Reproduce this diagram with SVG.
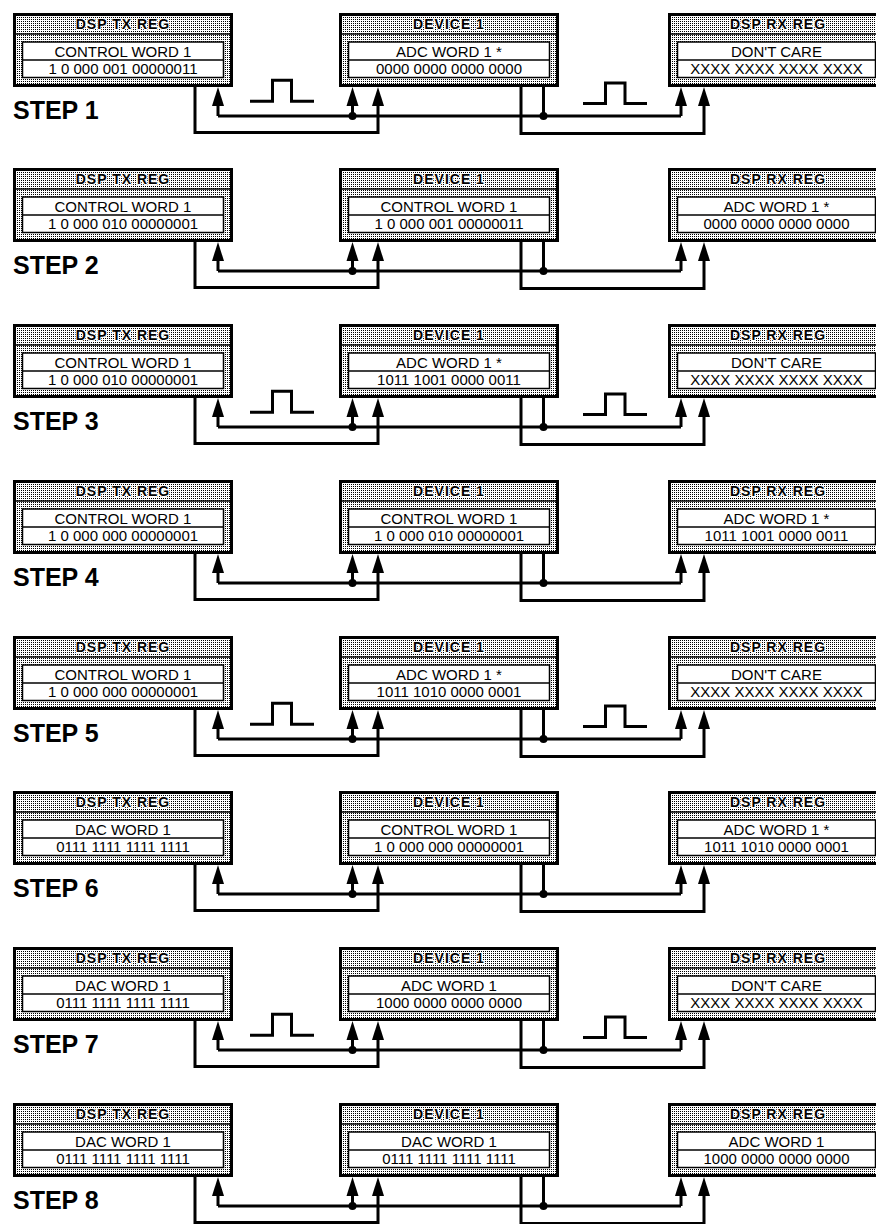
<svg xmlns="http://www.w3.org/2000/svg" width="876" height="1224" viewBox="0 0 876 1224">
<style>
.box{fill:url(#stip);stroke:#000;stroke-width:3}
.hl{stroke:#000;stroke-width:1.5}
.inner{fill:#fff;stroke:#000;stroke-width:1.5}
.hdr{font-family:"Liberation Sans",Arial,sans-serif;font-weight:bold;font-size:14px;letter-spacing:1px;text-anchor:middle;fill:#000;stroke:#fff;stroke-width:2px;paint-order:stroke;stroke-linejoin:round}
.txt{font-family:"Liberation Sans",Arial,sans-serif;font-size:15px;text-anchor:middle;fill:#000}
.step{font-family:"Liberation Sans",Arial,sans-serif;font-weight:bold;font-size:25px;fill:#000}
.w{fill:none;stroke:#000;stroke-width:3;stroke-linejoin:miter}
.arr{marker-end:url(#ah)}
.dot{fill:#000}
</style>
<defs>
<pattern id="stip" width="2" height="2" patternUnits="userSpaceOnUse"><rect width="2" height="2" fill="#fff"/><rect width="1" height="1" fill="#000"/></pattern>
<marker id="ah" markerUnits="userSpaceOnUse" viewBox="-9 -7 21 14" refX="0" refY="0" markerWidth="21" markerHeight="14" orient="auto" overflow="visible"><path d="M11,0 L-8,-6 L-8,6 Z" fill="#000"/></marker>
<g id="frameA"><rect class="box" x="1.5" y="1.5" width="217" height="71"/><line class="hl" x1="1.5" y1="21" x2="218.5" y2="21"/><rect class="inner" x="9.5" y="29" width="201" height="35.5"/><line class="hl" x1="9.5" y1="47" x2="210.5" y2="47"/></g>
<g id="frameR"><rect class="box" x="1.5" y="1.5" width="217" height="71"/><line class="hl" x1="1.5" y1="21" x2="218.5" y2="21"/><rect class="inner" x="9.5" y="29" width="198" height="35.5"/><line class="hl" x1="9.5" y1="47" x2="207.5" y2="47"/></g>
</defs>
<rect width="876" height="1224" fill="#fff"/>

<!-- STEP 1 -->
<g id="s1-tx" transform="translate(13,13)"><use href="#frameA"/><text class="hdr" x="110" y="16">DSP TX REG</text><text class="txt" x="110" y="43.6">CONTROL WORD 1</text><text class="txt" x="110" y="61.3">1 0 000 001 00000011</text></g>
<g id="s1-dev" transform="translate(339,13)"><use href="#frameA"/><text class="hdr" x="110" y="16">DEVICE 1</text><text class="txt" x="110" y="43.6">ADC WORD 1 *</text><text class="txt" x="110" y="61.3">0000 0000 0000 0000</text></g>
<g id="s1-rx" transform="translate(668,13)"><use href="#frameR"/><text class="hdr" x="110" y="16">DSP RX REG</text><text class="txt" x="108.5" y="43.6">DON'T CARE</text><text class="txt" x="108.5" y="61.3">XXXX XXXX XXXX XXXX</text></g>
<text id="s1-label" class="step" x="13" y="119">STEP 1</text>

<!-- STEP 2 -->
<g id="s2-tx" transform="translate(13,168)"><use href="#frameA"/><text class="hdr" x="110" y="16">DSP TX REG</text><text class="txt" x="110" y="43.6">CONTROL WORD 1</text><text class="txt" x="110" y="61.3">1 0 000 010 00000001</text></g>
<g id="s2-dev" transform="translate(339,168)"><use href="#frameA"/><text class="hdr" x="110" y="16">DEVICE 1</text><text class="txt" x="110" y="43.6">CONTROL WORD 1</text><text class="txt" x="110" y="61.3">1 0 000 001 00000011</text></g>
<g id="s2-rx" transform="translate(668,168)"><use href="#frameR"/><text class="hdr" x="110" y="16">DSP RX REG</text><text class="txt" x="108.5" y="43.6">ADC WORD 1 *</text><text class="txt" x="108.5" y="61.3">0000 0000 0000 0000</text></g>
<text id="s2-label" class="step" x="13" y="274">STEP 2</text>

<!-- STEP 3 -->
<g id="s3-tx" transform="translate(13,324)"><use href="#frameA"/><text class="hdr" x="110" y="16">DSP TX REG</text><text class="txt" x="110" y="43.6">CONTROL WORD 1</text><text class="txt" x="110" y="61.3">1 0 000 010 00000001</text></g>
<g id="s3-dev" transform="translate(339,324)"><use href="#frameA"/><text class="hdr" x="110" y="16">DEVICE 1</text><text class="txt" x="110" y="43.6">ADC WORD 1 *</text><text class="txt" x="110" y="61.3">1011 1001 0000 0011</text></g>
<g id="s3-rx" transform="translate(668,324)"><use href="#frameR"/><text class="hdr" x="110" y="16">DSP RX REG</text><text class="txt" x="108.5" y="43.6">DON'T CARE</text><text class="txt" x="108.5" y="61.3">XXXX XXXX XXXX XXXX</text></g>
<text id="s3-label" class="step" x="13" y="430">STEP 3</text>

<!-- STEP 4 -->
<g id="s4-tx" transform="translate(13,480)"><use href="#frameA"/><text class="hdr" x="110" y="16">DSP TX REG</text><text class="txt" x="110" y="43.6">CONTROL WORD 1</text><text class="txt" x="110" y="61.3">1 0 000 000 00000001</text></g>
<g id="s4-dev" transform="translate(339,480)"><use href="#frameA"/><text class="hdr" x="110" y="16">DEVICE 1</text><text class="txt" x="110" y="43.6">CONTROL WORD 1</text><text class="txt" x="110" y="61.3">1 0 000 010 00000001</text></g>
<g id="s4-rx" transform="translate(668,480)"><use href="#frameR"/><text class="hdr" x="110" y="16">DSP RX REG</text><text class="txt" x="108.5" y="43.6">ADC WORD 1 *</text><text class="txt" x="108.5" y="61.3">1011 1001 0000 0011</text></g>
<text id="s4-label" class="step" x="13" y="586">STEP 4</text>

<!-- STEP 5 -->
<g id="s5-tx" transform="translate(13,636)"><use href="#frameA"/><text class="hdr" x="110" y="16">DSP TX REG</text><text class="txt" x="110" y="43.6">CONTROL WORD 1</text><text class="txt" x="110" y="61.3">1 0 000 000 00000001</text></g>
<g id="s5-dev" transform="translate(339,636)"><use href="#frameA"/><text class="hdr" x="110" y="16">DEVICE 1</text><text class="txt" x="110" y="43.6">ADC WORD 1 *</text><text class="txt" x="110" y="61.3">1011 1010 0000 0001</text></g>
<g id="s5-rx" transform="translate(668,636)"><use href="#frameR"/><text class="hdr" x="110" y="16">DSP RX REG</text><text class="txt" x="108.5" y="43.6">DON'T CARE</text><text class="txt" x="108.5" y="61.3">XXXX XXXX XXXX XXXX</text></g>
<text id="s5-label" class="step" x="13" y="742">STEP 5</text>

<!-- STEP 6 -->
<g id="s6-tx" transform="translate(13,791)"><use href="#frameA"/><text class="hdr" x="110" y="16">DSP TX REG</text><text class="txt" x="110" y="43.6">DAC WORD 1</text><text class="txt" x="110" y="61.3">0111 1111 1111 1111</text></g>
<g id="s6-dev" transform="translate(339,791)"><use href="#frameA"/><text class="hdr" x="110" y="16">DEVICE 1</text><text class="txt" x="110" y="43.6">CONTROL WORD 1</text><text class="txt" x="110" y="61.3">1 0 000 000 00000001</text></g>
<g id="s6-rx" transform="translate(668,791)"><use href="#frameR"/><text class="hdr" x="110" y="16">DSP RX REG</text><text class="txt" x="108.5" y="43.6">ADC WORD 1 *</text><text class="txt" x="108.5" y="61.3">1011 1010 0000 0001</text></g>
<text id="s6-label" class="step" x="13" y="897">STEP 6</text>

<!-- STEP 7 -->
<g id="s7-tx" transform="translate(13,947)"><use href="#frameA"/><text class="hdr" x="110" y="16">DSP TX REG</text><text class="txt" x="110" y="43.6">DAC WORD 1</text><text class="txt" x="110" y="61.3">0111 1111 1111 1111</text></g>
<g id="s7-dev" transform="translate(339,947)"><use href="#frameA"/><text class="hdr" x="110" y="16">DEVICE 1</text><text class="txt" x="110" y="43.6">ADC WORD 1</text><text class="txt" x="110" y="61.3">1000 0000 0000 0000</text></g>
<g id="s7-rx" transform="translate(668,947)"><use href="#frameR"/><text class="hdr" x="110" y="16">DSP RX REG</text><text class="txt" x="108.5" y="43.6">DON'T CARE</text><text class="txt" x="108.5" y="61.3">XXXX XXXX XXXX XXXX</text></g>
<text id="s7-label" class="step" x="13" y="1053">STEP 7</text>

<!-- STEP 8 -->
<g id="s8-tx" transform="translate(13,1103)"><use href="#frameA"/><text class="hdr" x="110" y="16">DSP TX REG</text><text class="txt" x="110" y="43.6">DAC WORD 1</text><text class="txt" x="110" y="61.3">0111 1111 1111 1111</text></g>
<g id="s8-dev" transform="translate(339,1103)"><use href="#frameA"/><text class="hdr" x="110" y="16">DEVICE 1</text><text class="txt" x="110" y="43.6">DAC WORD 1</text><text class="txt" x="110" y="61.3">0111 1111 1111 1111</text></g>
<g id="s8-rx" transform="translate(668,1103)"><use href="#frameR"/><text class="hdr" x="110" y="16">DSP RX REG</text><text class="txt" x="108.5" y="43.6">ADC WORD 1</text><text class="txt" x="108.5" y="61.3">1000 0000 0000 0000</text></g>
<text id="s8-label" class="step" x="13" y="1209">STEP 8</text>

<defs>
<g id="bus">
<path class="w" d="M218,103 H681"/>
<path class="w arr" d="M218,103 V85"/>
<path class="w arr" d="M352.5,103 V85"/>
<path class="w arr" d="M681,103 V85"/>
<path class="w" d="M543.5,73 V103"/>
<path class="w arr" d="M195,73 V119.5 H378 V85"/>
<path class="w arr" d="M521,73 V120.5 H704 V85"/>
<circle class="dot" cx="352.5" cy="103" r="4"/>
<circle class="dot" cx="543.5" cy="103" r="4"/>
</g>
<g id="pulses">
<path class="w" d="M250,88.3 H272.5 V67.3 H291.5 V88.3 H314"/>
<path class="w" d="M583,90.6 H605.5 V70 H625 V90.6 H647"/>
</g>
</defs>
<g id="connectors">
<g transform="translate(0,13)"><use href="#bus"/><use href="#pulses"/></g>
<g transform="translate(0,168)"><use href="#bus"/></g>
<g transform="translate(0,324)"><use href="#bus"/><use href="#pulses"/></g>
<g transform="translate(0,480)"><use href="#bus"/></g>
<g transform="translate(0,636)"><use href="#bus"/><use href="#pulses"/></g>
<g transform="translate(0,791)"><use href="#bus"/></g>
<g transform="translate(0,947)"><use href="#bus"/><use href="#pulses"/></g>
<g transform="translate(0,1103)"><use href="#bus"/></g>
</g>
</svg>
